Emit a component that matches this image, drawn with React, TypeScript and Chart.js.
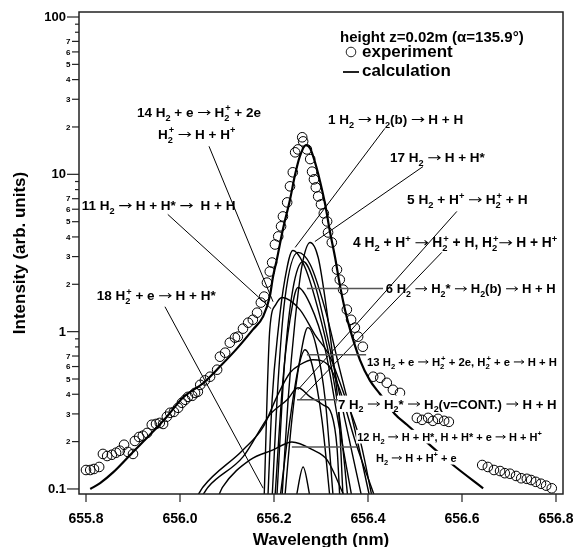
import React, { useEffect, useRef } from "react";
import { Chart, registerables } from "chart.js";
Chart.register(...registerables);

const FONT = '"Liberation Sans", Arial, Helvetica, sans-serif';

// ---------- data ----------
const expWavelength = [
  655.800, 655.809, 655.817, 655.828, 655.836, 655.845, 655.855, 655.864, 655.872, 655.881,
  655.889, 655.900, 655.904, 655.913, 655.921, 655.930, 655.940, 655.949, 655.957, 655.964,
  655.972, 655.979, 655.987, 655.996, 656.004, 656.011, 656.017, 656.026, 656.032, 656.038,
  656.043, 656.053, 656.064, 656.079, 656.085, 656.096, 656.106, 656.117, 656.123, 656.134,
  656.145, 656.155, 656.164, 656.172, 656.179, 656.185, 656.191, 656.196, 656.202, 656.209,
  656.215, 656.219, 656.228, 656.234, 656.240, 656.245, 656.251, 656.260, 656.262, 656.270,
  656.277, 656.281, 656.285, 656.289, 656.294, 656.300, 656.306, 656.313, 656.315, 656.323,
  656.334, 656.340, 656.347, 656.355, 656.364, 656.372, 656.379, 656.389, 656.411, 656.426,
  656.440, 656.453, 656.468, 656.504, 656.515, 656.528, 656.538, 656.549, 656.562, 656.572,
  656.643, 656.655, 656.668, 656.681, 656.691, 656.702, 656.715, 656.726, 656.738, 656.747,
  656.757, 656.768, 656.779, 656.791,
];
const expIntensity = [
  0.132, 0.132, 0.134, 0.138, 0.167, 0.162, 0.165, 0.170, 0.175, 0.191,
  0.172, 0.167, 0.202, 0.214, 0.218, 0.227, 0.256, 0.259, 0.263, 0.259,
  0.288, 0.305, 0.309, 0.328, 0.353, 0.369, 0.385, 0.391, 0.408, 0.415,
  0.459, 0.490, 0.517, 0.573, 0.693, 0.735, 0.851, 0.916, 0.929, 1.045,
  1.14, 1.19, 1.32, 1.53, 1.67, 2.05, 2.41, 2.75, 3.58, 4.03,
  4.67, 5.40, 6.63, 8.39, 10.3, 13.8, 14.4, 17.2, 16.2, 14.4,
  12.5, 10.4, 9.29, 8.26, 7.24, 6.44, 5.65, 5.02, 4.27, 3.69,
  2.48, 2.14, 1.85, 1.38, 1.19, 1.06, 0.929, 0.802, 0.517, 0.509,
  0.473, 0.427, 0.408, 0.283, 0.275, 0.283, 0.271, 0.279, 0.271, 0.267,
  0.142, 0.138, 0.132, 0.130, 0.126, 0.125, 0.121, 0.117, 0.116, 0.114,
  0.111, 0.108, 0.105, 0.101,
];

const calcWavelength = [
  655.809, 655.830, 655.857, 655.900, 655.936, 655.972, 656.006, 656.049, 656.085, 656.121,
  656.155, 656.177, 656.191, 656.198, 656.206, 656.219, 656.234, 656.245, 656.255, 656.268,
  656.277, 656.287, 656.298, 656.309, 656.319, 656.330, 656.340, 656.351, 656.362, 656.383,
  656.404, 656.426, 656.457, 656.483, 656.532, 656.581, 656.645,
];
const calcIntensity = [
  0.100, 0.109, 0.127, 0.172, 0.221, 0.288, 0.380, 0.470, 0.600, 0.780,
  1.03, 1.25, 1.67, 2.24, 2.87, 4.47, 6.9, 10.0, 13.0, 15.3,
  14.6, 12.0, 9.0, 6.4, 4.33, 2.96, 1.99, 1.38, 1.03, 0.66,
  0.49, 0.40, 0.30, 0.256, 0.19, 0.142, 0.101,
];

// component curves: [wavelength, intensity]
const comp1 = [[656.187, 0.088], [656.196, 0.369], [656.209, 1.03], [656.223, 2.14], [656.240, 3.28], [656.266, 2.56], [656.294, 1.38], [656.319, 0.663], [656.340, 0.275], [656.357, 0.088]];
const comp2 = [[656.217, 0.088], [656.230, 0.369], [656.245, 1.19], [656.260, 2.67], [656.277, 3.69], [656.294, 2.96], [656.309, 1.60], [656.326, 0.663], [656.338, 0.30], [656.347, 0.088]];
const comp3 = [[656.196, 0.088], [656.209, 0.495], [656.223, 1.60], [656.251, 3.19], [656.277, 2.67], [656.309, 1.38], [656.340, 0.573], [656.372, 0.238], [656.404, 0.088]];
const comp4 = [[656.206, 0.088], [656.223, 0.663], [656.240, 1.85], [656.262, 2.79], [656.287, 1.99], [656.315, 0.889], [656.351, 0.275], [656.387, 0.088]];
const comp5 = [[656.202, 0.088], [656.219, 0.495], [656.234, 1.19], [656.251, 1.91], [656.277, 1.49], [656.309, 0.768], [656.336, 0.275], [656.366, 0.088]];
const comp6 = [[656.179, 0.088], [656.191, 1.03], [656.204, 1.49], [656.217, 1.65], [656.255, 1.38], [656.287, 0.957], [656.319, 0.693], [656.351, 0.385], [656.383, 0.205], [656.409, 0.088]];
const comp7 = [[656.223, 0.088], [656.238, 0.275], [656.255, 0.663], [656.272, 1.06], [656.289, 0.826], [656.309, 0.369], [656.326, 0.088]];
const comp8 = [[656.213, 0.088], [656.234, 0.275], [656.251, 0.573], [656.266, 0.768], [656.281, 0.616], [656.302, 0.275], [656.319, 0.088]];
const comp9 = [[656.035, 0.088], [656.049, 0.103], [656.134, 0.177], [656.177, 0.248], [656.206, 0.385], [656.234, 0.548], [656.255, 0.616], [656.283, 0.663], [656.315, 0.616], [656.340, 0.427], [656.372, 0.205], [656.415, 0.088]];
const comp10 = [[656.045, 0.088], [656.060, 0.103], [656.134, 0.160], [656.191, 0.296], [656.228, 0.369], [656.251, 0.440], [656.277, 0.385], [656.304, 0.343], [656.323, 0.296], [656.334, 0.185], [656.340, 0.088]];
const comp11 = [[656.080, 0.088], [656.091, 0.103], [656.149, 0.153], [656.198, 0.177], [656.238, 0.199], [656.283, 0.177], [656.313, 0.153], [656.351, 0.088]];
const comp12 = [[656.247, 0.088], [656.262, 0.138], [656.277, 0.088]];
const components = [comp1, comp2, comp3, comp4, comp5, comp6, comp7, comp8, comp9, comp10, comp11, comp12];

// ticks
const xTickValues = [655.8, 656.0, 656.2, 656.4, 656.6, 656.8];
const xTickLabels = ["655.8", "656.0", "656.2", "656.4", "656.6", "656.8"];
const yMajorValues = [0.1, 1, 10, 100];
const yMajorLabels = ["0.1", "1", "10", "100"];
const yMinorMultipliers = [2, 3, 4, 5, 6, 7, 8, 9];
const yMinorLabels = ["2", "3", "4", "5", "6", "7", "", ""];

// texts
const xTitle = "Wavelength (nm)";
const yTitle = "Intensity (arb. units)";
const headerText = "height z=0.02m (\u03B1=135.9\u00B0)";
const legendExp = "experiment";
const legendCalc = "calculation";

// annotations: text anchored at left edge / vertical centre, in data coordinates
const annotations = [
  { text: "14 H_2 + e \u2192 H_2^+ + 2e", x: 655.9085, y: 24.8, size: 13.5 },
  { text: "H_2^+ \u2192 H + H^+", x: 655.953, y: 18.0, size: 13.5 },
  { text: "1 H_2 \u2192 H_2(b) \u2192 H + H", x: 656.315, y: 22.4, size: 13.5 },
  { text: "17 H_2 \u2192 H + H*", x: 656.447, y: 12.8, size: 13.5 },
  { text: "11 H_2 \u2192 H + H* \u2192  H + H", x: 655.791, y: 6.35, size: 13.5 },
  { text: "5 H_2 + H^+ \u2192 H_2^+ + H", x: 656.483, y: 6.93, size: 13.7 },
  { text: "4 H_2 + H^+ \u2192 H_2^+ + H, H_2^+\u2192 H + H^+", x: 656.368, y: 3.69, size: 13.8 },
  { text: "6 H_2 \u2192 H_2* \u2192 H_2(b) \u2192 H + H", x: 656.438, y: 1.88, size: 13 },
  { text: "18 H_2^+ + e \u2192 H + H*", x: 655.823, y: 1.70, size: 13.5 },
  { text: "13 H_2 + e \u2192 H_2^+ + 2e, H_2^+ + e \u2192 H + H", x: 656.398, y: 0.644, size: 11.3 },
  { text: "7 H_2 \u2192 H_2* \u2192 H_2(v=CONT.) \u2192 H + H", x: 656.336, y: 0.348, size: 13.2 },
  { text: "12 H_2 \u2192 H + H*, H + H* + e \u2192 H + H^+", x: 656.377, y: 0.215, size: 11 },
  { text: "H_2 \u2192 H + H^+ + e", x: 656.417, y: 0.158, size: 11 },
];
// leader lines [x1, y1, x2, y2] in data coordinates
const leaders = [
  [656.0617, 15.07, 656.198, 1.55],
  [656.436, 19.6, 656.245, 3.43],
  [656.517, 11.2, 656.287, 3.74],
  [655.974, 5.56, 656.194, 1.40],
  [656.589, 5.81, 656.251, 0.427],
  [656.557, 3.19, 656.255, 0.369],
  [655.968, 1.44, 656.177, 0.101],
];
const flatLeaders = [
  [656.270, 1.88, 656.432, 1.88],
  [656.270, 0.714, 656.396, 0.714],
  [656.249, 0.369, 656.336, 0.369],
  [656.238, 0.185, 656.377, 0.185],
];

// ---------- rich text helpers ----------
type Item = { s: string; x: number; dy: number; font: string; w: number; arrow?: boolean };
function richLayout(ctx: CanvasRenderingContext2D, text: string, size: number) {
  const items: Item[] = [];
  let x = 0;
  let prevSub: { x: number; w: number } | null = null;
  let buf = "";
  const mainFont = `bold ${size}px ${FONT}`;
  const smallFont = `bold ${(size * 0.68).toFixed(2)}px ${FONT}`;
  const flush = () => {
    if (buf) {
      ctx.font = mainFont;
      const w = ctx.measureText(buf).width;
      items.push({ s: buf, x, dy: 0, font: mainFont, w });
      x += w;
      buf = "";
    }
  };
  for (let i = 0; i < text.length; i++) {
    const c = text[i];
    if (c === "\u2192") {
      flush();
      ctx.font = mainFont;
      const w = ctx.measureText(c).width;
      items.push({ s: c, x, dy: 0, font: mainFont, w, arrow: true });
      x += w;
      prevSub = null;
    } else if ((c === "_" || c === "^") && i + 1 < text.length) {
      flush();
      const s = text[i + 1];
      i++;
      ctx.font = smallFont;
      const w = ctx.measureText(s).width;
      if (c === "_") {
        items.push({ s, x, dy: size * 0.28, font: smallFont, w });
        prevSub = { x, w };
        x += w;
      } else {
        if (prevSub && Math.abs(prevSub.x + prevSub.w - x) < 0.01) {
          items.push({ s, x: prevSub.x + 1, dy: -size * 0.42, font: smallFont, w });
          x = prevSub.x + Math.max(prevSub.w, w + 1);
        } else {
          items.push({ s, x, dy: -size * 0.42, font: smallFont, w });
          x += w;
        }
        prevSub = null;
      }
    } else {
      buf += c;
      prevSub = null;
    }
  }
  flush();
  return { items, width: x };
}

const decorations = {
  id: "decorations",
  afterDatasetsDraw(chart: any) {
    const { ctx, chartArea, scales } = chart;
    const xs = scales.x;
    const ys = scales.y;
    ctx.save();
    ctx.beginPath();
    ctx.rect(chartArea.left, chartArea.top, chartArea.right - chartArea.left, chartArea.bottom - chartArea.top);
    ctx.clip();
    const laid = annotations.map((a) => {
      const lay = richLayout(ctx, a.text, a.size);
      return { a, lay, px: xs.getPixelForValue(a.x), py: ys.getPixelForValue(a.y) };
    });
    // white boxes
    ctx.fillStyle = "#fff";
    laid.forEach(({ a, lay, px, py }) => {
      ctx.fillRect(px - 1, py - a.size * 0.62, lay.width + 2, a.size * 1.24);
    });
    // leaders
    ctx.strokeStyle = "#000";
    ctx.lineWidth = 1;
    leaders.forEach(([x1, y1, x2, y2]) => {
      ctx.beginPath();
      ctx.moveTo(xs.getPixelForValue(x1), ys.getPixelForValue(y1));
      ctx.lineTo(xs.getPixelForValue(x2), ys.getPixelForValue(y2));
      ctx.stroke();
    });
    ctx.strokeStyle = "#555";
    ctx.lineWidth = 1.5;
    flatLeaders.forEach(([x1, y1, x2, y2]) => {
      ctx.beginPath();
      ctx.moveTo(xs.getPixelForValue(x1), ys.getPixelForValue(y1));
      ctx.lineTo(xs.getPixelForValue(x2), ys.getPixelForValue(y2));
      ctx.stroke();
    });
    // text
    ctx.fillStyle = "#000";
    ctx.strokeStyle = "#000";
    ctx.textAlign = "left";
    ctx.textBaseline = "alphabetic";
    laid.forEach(({ a, lay, px, py }) => {
      const base = py + a.size * 0.36;
      lay.items.forEach((it) => {
        if (it.arrow) {
          const ay = base - a.size * 0.34;
          const x0 = px + it.x + it.w * 0.06;
          const x1 = px + it.x + it.w * 0.94;
          const hs = a.size * 0.22;
          ctx.lineWidth = Math.max(1, a.size * 0.075);
          ctx.beginPath();
          ctx.moveTo(x0, ay);
          ctx.lineTo(x1, ay);
          ctx.moveTo(x1 - hs, ay - hs * 0.75);
          ctx.lineTo(x1, ay);
          ctx.lineTo(x1 - hs, ay + hs * 0.75);
          ctx.stroke();
        } else {
          ctx.font = it.font;
          ctx.fillText(it.s, px + it.x, base + it.dy);
        }
      });
    });
    ctx.restore();
  },
  afterDraw(chart: any) {
    const { ctx, chartArea, scales } = chart;
    const xs = scales.x;
    const ys = scales.y;
    const { left, right, top, bottom } = chartArea;
    ctx.save();
    // frame
    ctx.strokeStyle = "#222";
    ctx.lineWidth = 1.5;
    ctx.strokeRect(left, top, right - left, bottom - top);
    // y ticks
    ctx.lineWidth = 1.2;
    ctx.fillStyle = "#000";
    ctx.textAlign = "right";
    ctx.textBaseline = "middle";
    yMajorValues.forEach((v, i) => {
      const py = ys.getPixelForValue(v);
      ctx.beginPath();
      ctx.moveTo(left - 12, py);
      ctx.lineTo(left, py);
      ctx.stroke();
      ctx.font = `bold 13px ${FONT}`;
      ctx.fillText(yMajorLabels[i], left - 13, py + 0.5);
      if (i < yMajorValues.length - 1) {
        yMinorMultipliers.forEach((m, j) => {
          const mv = v * m;
          const my = ys.getPixelForValue(mv);
          const lab = yMinorLabels[j];
          ctx.beginPath();
          ctx.moveTo(left - (lab ? 7 : 4), my);
          ctx.lineTo(left, my);
          ctx.stroke();
          if (lab) {
            ctx.font = `bold 8px ${FONT}`;
            ctx.fillText(lab, left - 8.5, my + 0.5);
          }
        });
      }
    });
    // x ticks
    ctx.textAlign = "center";
    ctx.textBaseline = "middle";
    xTickValues.forEach((v, i) => {
      const px = xs.getPixelForValue(v);
      ctx.beginPath();
      ctx.moveTo(px, bottom);
      ctx.lineTo(px, bottom + 8);
      ctx.stroke();
      ctx.font = `bold 14px ${FONT}`;
      ctx.fillText(xTickLabels[i], px, bottom + 25);
    });
    // legend block
    const lx = left + 261;
    ctx.textAlign = "left";
    ctx.font = `bold 15px ${FONT}`;
    ctx.fillText(headerText, lx, top + 26);
    ctx.beginPath();
    ctx.lineWidth = 1;
    ctx.arc(left + 272, top + 40, 4.8, 0, Math.PI * 2);
    ctx.stroke();
    ctx.font = `bold 17px ${FONT}`;
    ctx.fillText(legendExp, left + 283, top + 40);
    ctx.beginPath();
    ctx.lineWidth = 2;
    ctx.moveTo(left + 264, top + 60);
    ctx.lineTo(left + 280, top + 60);
    ctx.stroke();
    ctx.fillText(legendCalc, left + 283, top + 59);
    ctx.restore();
  },
};

export default function App() {
  const canvasRef = useRef<HTMLCanvasElement | null>(null);
  useEffect(() => {
    const canvas = canvasRef.current;
    if (!canvas) return;
    const datasets: any[] = [
      {
        label: "experiment",
        data: expWavelength.map((x, i) => ({ x, y: expIntensity[i] })),
        showLine: false,
        pointRadius: 4.8,
        pointBorderWidth: 1,
        pointBorderColor: "#000",
        pointBackgroundColor: "rgba(0,0,0,0)",
        borderColor: "#000",
      },
      {
        label: "calculation",
        data: calcWavelength.map((x, i) => ({ x, y: calcIntensity[i] })),
        borderColor: "#000",
        borderWidth: 2.2,
        pointRadius: 0,
        cubicInterpolationMode: "monotone",
        fill: false,
      },
      ...components.map((c, k) => ({
        label: `component ${k + 1}`,
        data: c.map(([x, y]) => ({ x, y })),
        borderColor: "#000",
        borderWidth: 1.4,
        pointRadius: 0,
        cubicInterpolationMode: "monotone",
        fill: false,
      })),
    ];
    const chart = new Chart(canvas, {
      type: "line",
      data: { datasets },
      options: {
        animation: false,
        responsive: true,
        maintainAspectRatio: false,
        events: [],
        layout: { padding: { left: 0, right: 10, top: 12, bottom: 0 } },
        plugins: { legend: { display: false }, tooltip: { enabled: false } },
        scales: {
          x: {
            type: "linear",
            min: 655.7851,
            max: 656.8149,
            grid: { display: false },
            border: { display: false },
            ticks: { display: false },
            title: {
              display: true,
              text: xTitle,
              color: "#000",
              font: { family: FONT, size: 17, weight: "bold", lineHeight: 0.8 },
              padding: 0,
            },
            afterFit: (s: any) => {
              s.height = 53;
            },
          },
          y: {
            type: "logarithmic",
            min: 0.0929,
            max: 107.6,
            bounds: "data",
            grid: { display: false },
            border: { display: false },
            ticks: { display: false },
            title: {
              display: true,
              text: yTitle,
              color: "#000",
              font: { family: FONT, size: 17, weight: "bold", lineHeight: 1 },
              padding: { top: 12, bottom: 0 },
            },
            afterFit: (s: any) => {
              s.width = 79;
            },
          },
        },
      } as any,
      plugins: [decorations],
    });
    return () => chart.destroy();
  }, []);
  return (
    <div style={{ position: "fixed", left: 0, top: 0, width: 573, height: 547, background: "#fff" }}>
      <canvas ref={canvasRef} />
    </div>
  );
}
